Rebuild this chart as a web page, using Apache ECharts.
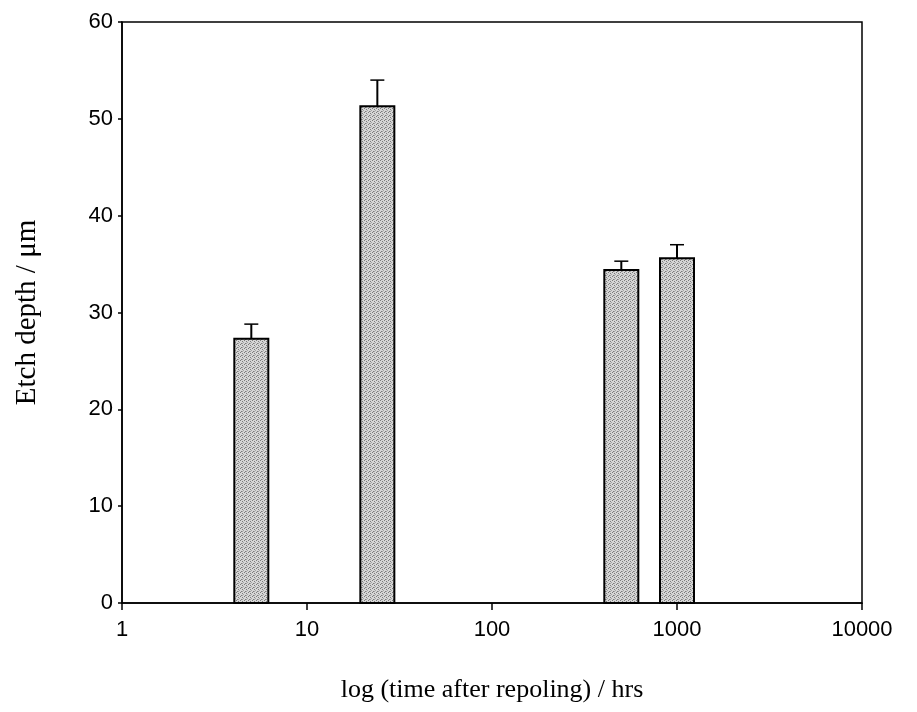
<!DOCTYPE html>
<html>
<head>
<meta charset="utf-8">
<script src="https://cdn.jsdelivr.net/npm/echarts@6/dist/echarts.min.js"></script>
<style>html,body{margin:0;padding:0;background:#fff}#c{width:917px;height:712px}</style>
</head>
<body>
<div id="c"></div>
<script>
// time after repoling (hrs), etch depth (µm), upper error bar (µm)
var times = [5, 24, 500, 1000];
var depths = [27.3, 51.3, 34.4, 35.6];
var errTops = [28.8, 54.0, 35.3, 37.0];
var yTicks = [0, 10, 20, 30, 40, 50, 60];
var xTicks = [1, 10, 100, 1000, 10000];

var barData = times.map(function (t, i) { return [t, depths[i]]; });
var errData = times.map(function (t, i) { return [t, depths[i], errTops[i]]; });

// stipple texture tile for the bars
var tile = document.createElement('canvas');
tile.width = 4; tile.height = 4;
var tctx = tile.getContext('2d');
tctx.fillStyle = '#d6d6d6';
tctx.fillRect(0, 0, 4, 4);
tctx.fillStyle = '#7c7c7c';
tctx.fillRect(0, 0, 1, 1);
tctx.fillRect(2, 1, 1, 1);
tctx.fillRect(1, 3, 1, 1);
tctx.fillStyle = '#a4a4a4';
tctx.fillRect(3, 2, 1, 1);
tctx.fillRect(2, 3, 1, 1);

var chart = echarts.init(document.getElementById('c'), null, {renderer: 'canvas'});
chart.setOption({
  animation: false,
  backgroundColor: '#fff',
  grid: {left: 122, right: 55, top: 22, bottom: 109, show: true, borderColor: '#000', borderWidth: 1.5, backgroundColor: 'transparent'},
  xAxis: {
    type: 'log', logBase: 10, min: xTicks[0], max: xTicks[xTicks.length - 1],
    name: 'log (time after repoling) / hrs', nameLocation: 'middle', nameGap: 74,
    nameTextStyle: {fontFamily: 'Liberation Serif', fontSize: 26, color: '#000'},
    axisLine: {lineStyle: {color: '#000', width: 1.5}},
    axisTick: {show: true, inside: false, length: 7, lineStyle: {color: '#000', width: 1.5}},
    minorTick: {show: false},
    splitLine: {show: false},
    axisLabel: {color: '#000', fontFamily: 'Liberation Sans', fontSize: 22, margin: 16,
      formatter: function (v) { return String(Math.round(v)); }}
  },
  yAxis: {
    type: 'value', min: 0, max: 60, interval: 10,
    name: 'Etch depth / \u03bcm', nameLocation: 'middle', nameGap: 80,
    nameTextStyle: {fontFamily: 'Liberation Serif', fontSize: 29, color: '#000'},
    axisLine: {show: true, lineStyle: {color: '#000', width: 1.5}},
    axisTick: {show: true, inside: false, length: 4, lineStyle: {color: '#000', width: 1.5}},
    splitLine: {show: false},
    axisLabel: {color: '#000', fontFamily: 'Liberation Sans', fontSize: 22, margin: 9,
      formatter: function (v) { return yTicks.indexOf(v) >= 0 ? String(v) : ''; }}
  },
  series: [
    {
      type: 'custom',
      data: barData,
      encode: {x: 0, y: 1},
      renderItem: function (params, api) {
        var x = api.value(0), y = api.value(1);
        var top = api.coord([x, y]);
        var base = api.coord([x, 0]);
        var w = 34;
        return {
          type: 'rect',
          shape: {x: top[0] - w / 2, y: top[1], width: w, height: base[1] - top[1]},
          style: {
            fill: {image: tile, repeat: 'repeat'},
            stroke: '#000',
            lineWidth: 2
          }
        };
      },
      z: 3
    },
    {
      type: 'custom',
      data: errData,
      encode: {x: 0, y: 2},
      renderItem: function (params, api) {
        var x = api.value(0), y = api.value(1), e = api.value(2);
        var p0 = api.coord([x, y]);
        var p1 = api.coord([x, e]);
        var cw = 7;
        return {
          type: 'group',
          children: [
            {type: 'line', shape: {x1: p0[0], y1: p0[1], x2: p1[0], y2: p1[1]}, style: {stroke: '#000', lineWidth: 2}},
            {type: 'line', shape: {x1: p1[0] - cw, y1: p1[1], x2: p1[0] + cw, y2: p1[1]}, style: {stroke: '#000', lineWidth: 1.5}}
          ]
        };
      },
      z: 4
    }
  ]
});
</script>
</body>
</html>
